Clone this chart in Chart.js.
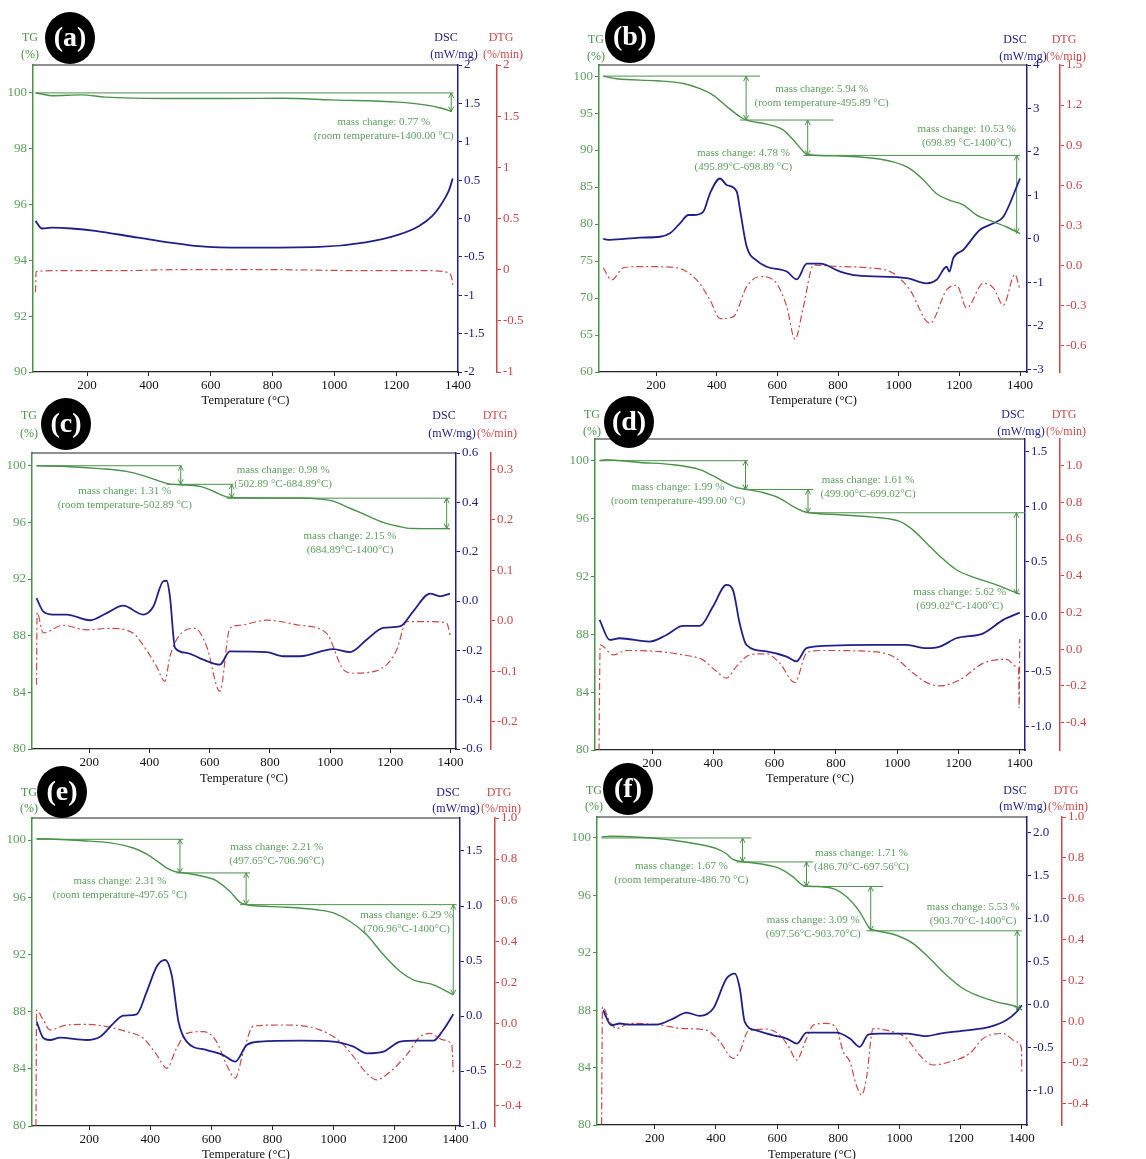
<!DOCTYPE html>
<html>
<head>
<meta charset="utf-8">
<title>TG-DSC-DTG curves</title>
<script src="https://cdn.jsdelivr.net/npm/chart.js@4.4.1/dist/chart.umd.min.js"></script>
<style>
  html, body { margin: 0; padding: 0; background: #fff; overflow: hidden; }
  #page { position: relative; width: 1146px; height: 1159px; overflow: hidden; }
  #page canvas { position: absolute; }
</style>
</head>
<body>
<div id="page"></div>
<script>
// Valeurs : [température °C, valeur]
const tempTicks = [200, 400, 600, 800, 1000, 1200, 1400];

// (a)
const tgA = [[33,100],[54,99.96],[86,99.9],[183,99.93],[258,99.85],[452,99.8],[668,99.8],[830,99.81],[991,99.75],[1207,99.67],[1293,99.57],[1347,99.45],[1380,99.33]];
const dscA = [[33,-0.03],[54,-0.13],[86,-0.12],[150,-0.13],[226,-0.16],[366,-0.25],[561,-0.36],[713,-0.38],[950,-0.37],[1101,-0.31],[1208,-0.21],[1273,-0.10],[1316,0.03],[1348,0.2],[1370,0.36],[1383,0.52]];
const dtgA = [[33,-0.22],[35,-0.02],[100,-0.01],[300,-0.01],[500,0],[800,0],[1100,-0.01],[1300,-0.01],[1370,-0.03],[1381,-0.1],[1383,-0.15]];
const linesA = [[33,1385,100]];
const arrowsA = [[1378,100,99.33]];
const notesA = [[1160,98.94,'mass change: 0.77 %','(room temperature-1400.00 °C)']];
const tgTicksA = [90,92,94,96,98,100];
const dscTicksA = [-2,-1.5,-1,-0.5,0,0.5,1,1.5,2];
const dtgTicksA = [-1,-0.5,0,0.5,1,1.5,2];

// (b)
const tgB = [[26,100],[70,99.64],[202,99.37],[290,99.0],[345,98.3],[389,97.4],[433,95.9],[477,94.5],[499,94.05],[565,93.5],[620,92.7],[653,91.35],[686,89.8],[697,89.4],[807,89.2],[916,88.9],[982,88.4],[1037,87.5],[1081,86.0],[1125,84.1],[1169,83.2],[1213,82.6],[1257,81.2],[1312,80.3],[1356,79.6],[1400,78.7]];
const dscB = [[26,0],[48,-0.02],[147,0.03],[213,0.05],[246,0.13],[279,0.36],[307,0.55],[323,0.55],[356,0.63],[378,1.05],[411,1.39],[433,1.24],[466,1.09],[477,0.67],[499,-0.18],[532,-0.5],[565,-0.64],[631,-0.75],[664,-0.93],[697,-0.57],[741,-0.57],[807,-0.75],[862,-0.84],[1026,-0.9],[1092,-1.02],[1125,-0.94],[1158,-0.64],[1167,-0.75],[1180,-0.44],[1213,-0.25],[1268,0.21],[1312,0.36],[1345,0.51],[1400,1.39]];
const dtgB = [[26,-0.02],[54,-0.11],[92,-0.02],[147,-0.01],[257,-0.015],[334,-0.11],[378,-0.26],[411,-0.4],[455,-0.385],[499,-0.16],[543,-0.085],[587,-0.11],[631,-0.31],[658,-0.555],[686,-0.31],[719,0],[807,-0.01],[905,-0.02],[982,-0.06],[1037,-0.185],[1103,-0.435],[1158,-0.185],[1191,-0.15],[1224,-0.32],[1279,-0.135],[1312,-0.17],[1345,-0.3],[1383,-0.07],[1400,-0.185]];
const linesB = [[26,543,100],[477,785,94.06],[686,1400,89.28]];
const arrowsB = [[497,100,94.06],[700,94.06,89.28],[1389,89.28,78.75]];
const notesB = [[746,98.2,'mass change: 5.94 %','(room temperature-495.89 °C)'],[488,89.55,'mass change: 4.78 %','(495.89°C-698.89 °C)'],[1224,92.9,'mass change: 10.53 %','(698.89 °C-1400°C)']];
const tgTicksB = [60,65,70,75,80,85,90,95,100];
const dscTicksB = [-3,-2,-1,0,1,2,3,4];
const dtgTicksB = [-0.6,-0.3,0,0.3,0.6,0.9,1.2,1.5];

// (c)
const tgC = [[25,100],[125,99.95],[235,99.8],[324,99.6],[379,99.3],[435,98.9],[468,98.7],[501,98.66],[568,98.54],[612,98.2],[656,97.8],[678,97.74],[900,97.72],[966,97.65],[1010,97.5],[1066,97.0],[1121,96.5],[1176,96.0],[1232,95.7],[1265,95.58],[1398,95.56]];
const dscC = [[25,0.012],[47,-0.042],[80,-0.055],[125,-0.055],[202,-0.078],[258,-0.049],[313,-0.019],[379,-0.055],[413,-0.022],[446,0.08],[457,0.082],[468,0.019],[485,-0.19],[523,-0.21],[579,-0.238],[634,-0.258],[667,-0.204],[789,-0.207],[844,-0.224],[900,-0.224],[1010,-0.195],[1066,-0.207],[1121,-0.157],[1176,-0.109],[1232,-0.103],[1276,-0.042],[1332,0.03],[1365,0.019],[1398,0.03]];
const dtgC = [[25,-0.127],[27,0.016],[47,-0.024],[114,-0.009],[191,-0.018],[269,-0.015],[346,-0.025],[390,-0.058],[424,-0.091],[451,-0.12],[468,-0.071],[496,-0.032],[551,-0.015],[590,-0.051],[634,-0.14],[667,-0.015],[700,-0.009],[789,0.001],[900,-0.009],[988,-0.025],[1044,-0.097],[1077,-0.104],[1121,-0.103],[1188,-0.087],[1221,-0.058],[1254,-0.002],[1343,-0.002],[1387,-0.005],[1400,-0.032]];
const linesC = [[25,507,100],[457,678,98.69],[656,1398,97.71],[1265,1398,95.56]];
const arrowsC = [[504,100,98.69],[673,98.69,97.71],[1387,97.71,95.56]];
const notesC = [[318,98.19,'mass change: 1.31 %','(room temperature-502.89 °C)'],[844,99.72,'mass change: 0.98 %','(502.89 °C-684.89°C)'],[1066,95.0,'mass change: 2.15 %','(684.89°C-1400°C)']];
const tgTicksC = [80,84,88,92,96,100];
const dscTicksC = [-0.6,-0.4,-0.2,0,0.2,0.4,0.6];
const dtgTicksC = [-0.2,-0.1,0,0.1,0.2,0.3];

// (d)
const tgD = [[29,100],[51,100.07],[160,99.88],[269,99.72],[356,99.38],[399,98.96],[443,98.45],[475,98.15],[502,98.04],[562,97.8],[617,97.4],[660,96.84],[693,96.5],[709,96.42],[813,96.26],[921,96.1],[1008,95.8],[1052,95.2],[1096,94.3],[1139,93.4],[1193,92.46],[1248,91.95],[1313,91.5],[1400,90.77]];
const dscD = [[29,-0.033],[62,-0.215],[94,-0.2],[192,-0.23],[247,-0.17],[301,-0.088],[356,-0.088],[399,0.088],[443,0.285],[464,0.24],[486,-0.064],[508,-0.26],[573,-0.32],[639,-0.367],[671,-0.41],[704,-0.29],[758,-0.27],[921,-0.26],[1030,-0.26],[1096,-0.29],[1139,-0.276],[1193,-0.2],[1281,-0.155],[1346,-0.033],[1400,0.033]];
const dtgD = [[27,-0.55],[31,0.024],[73,-0.031],[116,-0.007],[225,-0.013],[301,-0.031],[366,-0.058],[410,-0.12],[443,-0.158],[475,-0.095],[519,-0.031],[573,-0.025],[617,-0.076],[666,-0.182],[704,-0.022],[747,-0.007],[921,-0.013],[987,-0.04],[1052,-0.13],[1096,-0.182],[1139,-0.2],[1204,-0.167],[1281,-0.076],[1357,-0.055],[1389,-0.095],[1396,-0.11],[1398,-0.32],[1400,0.055]];
const linesD = [[29,513,100],[497,726,98.01],[704,1417,96.4]];
const arrowsD = [[505,100,98.01],[709,98.01,96.4],[1389,96.4,90.78]];
const notesD = [[285,98.15,'mass change: 1.99 %','(room temperature-499.00 °C)'],[905,98.64,'mass change: 1.61 %','(499.00°C-699.02°C)'],[1204,90.89,'mass change: 5.62 %','(699.02°C-1400°C)']];
const tgTicksD = [80,84,88,92,96,100];
const dscTicksD = [-1,-0.5,0,0.5,1,1.5];
const dtgTicksD = [-0.4,-0.2,0,0.2,0.4,0.6,0.8,1];

// (e)
const tgE = [[27,100.09],[71,100.07],[180,99.95],[268,99.8],[344,99.44],[388,99.02],[421,98.55],[454,98.04],[486,97.76],[503,97.72],[563,97.5],[617,97.15],[661,96.4],[694,95.64],[716,95.47],[836,95.31],[945,95.12],[1000,94.9],[1055,94.3],[1109,93.37],[1164,91.97],[1219,90.8],[1262,90.22],[1328,89.87],[1393,89.17]];
const dscE = [[27,-0.05],[49,-0.2],[71,-0.218],[104,-0.197],[191,-0.218],[235,-0.188],[279,-0.067],[311,0.003],[355,0.015],[388,0.22],[421,0.45],[448,0.51],[470,0.37],[492,-0.05],[519,-0.233],[585,-0.31],[639,-0.355],[678,-0.415],[716,-0.264],[760,-0.233],[891,-0.224],[1000,-0.233],[1066,-0.279],[1109,-0.34],[1164,-0.324],[1219,-0.233],[1273,-0.224],[1328,-0.224],[1360,-0.127],[1393,0.015]];
const dtgE = [[25,-0.5],[27,0.065],[49,0.016],[71,-0.032],[126,-0.008],[191,-0.005],[257,-0.016],[322,-0.04],[377,-0.073],[421,-0.154],[454,-0.219],[486,-0.121],[519,-0.049],[574,-0.04],[617,-0.089],[650,-0.202],[678,-0.267],[705,-0.138],[738,-0.013],[836,-0.008],[956,-0.032],[1022,-0.089],[1066,-0.162],[1109,-0.243],[1142,-0.275],[1186,-0.235],[1240,-0.154],[1284,-0.065],[1317,-0.049],[1360,-0.081],[1388,-0.105],[1393,-0.243]];
const linesE = [[27,508,100.05],[486,727,97.7],[694,1404,95.48]];
const arrowsE = [[497,100.05,97.7],[714,97.7,95.48],[1393,95.48,89.19]];
const notesE = [[300,97.1,'mass change: 2.31 %','(room temperature-497.65 °C)'],[814,99.49,'mass change: 2.21 %','(497.65°C-706.96°C)'],[1240,94.77,'mass change: 6.29 %','(706.96°C-1400°C)']];
const tgTicksE = [80,84,88,92,96,100];
const dscTicksE = [-1,-0.5,0,0.5,1,1.5];
const dtgTicksE = [-0.4,-0.2,0,0.2,0.4,0.6,0.8,1];

// (f)
const tgF = [[26,100.07],[53,100.12],[151,100.05],[260,99.84],[347,99.54],[402,99.26],[434,98.9],[456,98.5],[478,98.38],[543,98.2],[609,97.87],[652,97.29],[685,96.7],[707,96.64],[783,96.47],[827,95.9],[870,94.85],[903,93.69],[919,93.57],[990,93.22],[1045,92.64],[1099,91.6],[1154,90.44],[1208,89.51],[1252,89.05],[1317,88.58],[1394,88.12],[1400,88.0]];
const dscF = [[31,-0.066],[58,-0.24],[86,-0.22],[118,-0.233],[205,-0.233],[260,-0.163],[304,-0.093],[347,-0.132],[391,-0.047],[434,0.3],[462,0.36],[478,0.186],[494,-0.2],[532,-0.3],[587,-0.357],[631,-0.395],[665,-0.453],[696,-0.326],[794,-0.326],[838,-0.395],[870,-0.492],[898,-0.349],[936,-0.337],[1023,-0.337],[1088,-0.368],[1132,-0.337],[1219,-0.3],[1295,-0.26],[1350,-0.18],[1383,-0.085],[1400,-0.008]];
const dtgF = [[26,-0.5],[29,0.073],[53,0],[75,-0.033],[118,-0.008],[205,-0.013],[293,-0.033],[369,-0.041],[413,-0.098],[456,-0.179],[478,-0.146],[505,-0.046],[565,-0.036],[609,-0.065],[641,-0.13],[663,-0.187],[696,-0.081],[718,-0.016],[761,-0.008],[794,-0.033],[816,-0.146],[838,-0.195],[859,-0.31],[876,-0.358],[892,-0.276],[914,-0.033],[957,-0.041],[1023,-0.081],[1066,-0.163],[1110,-0.211],[1165,-0.195],[1230,-0.154],[1274,-0.081],[1339,-0.057],[1383,-0.098],[1399,-0.13],[1400,-0.244]];
const linesF = [[26,516,100],[467,718,98.33],[685,947,96.62],[892,1400,93.53]];
const arrowsF = [[487,100,98.33],[696,98.33,96.62],[906,96.62,93.53],[1385,93.53,88.0]];
const notesF = [[287,98.05,'mass change: 1.67 %','(room temperature-486.70 °C)'],[876,98.96,'mass change: 1.71 %','(486.70°C-697.56°C)'],[718,94.27,'mass change: 3.09 %','(697.56°C-903.70°C)'],[1241,95.15,'mass change: 5.53 %','(903.70°C-1400°C)']];
const tgTicksF = [80,84,88,92,96,100];
const dscTicksF = [-1,-0.5,0,0.5,1,1.5,2];
const dtgTicksF = [-0.4,-0.2,0,0.2,0.4,0.6,0.8,1];

// Couleurs
const GREEN = '#4a924a';
const GREEN_TXT = '#5c9e5c';
const NAVY = '#20208a';
const RED = '#cc4848';
const FONT = "'Liberation Serif', 'Times New Roman', serif";
Chart.defaults.font.family = FONT;

// Mise en page des panneaux (coordonnées page)
const panels = [
  { tag: 'a', tg: tgA, dsc: dscA, dtg: dtgA, lines: linesA, arrows: arrowsA, notes: notesA,
    ticks: [tgTicksA, dscTicksA, dtgTicksA], dec: [null, null, null],
    xr: [25, 1400], tgr: [90, 101], dscr: [-2, 2], dtgr: [-1, 2],
    box: { x: 0, y: 0, w: 560, h: 410 }, area: { l: 33, t: 65, r: 458, b: 372 }, dtgX: 497,
    titleY: 399, head: [38, 55], badge: [70, 38] },
  { tag: 'b', tg: tgB, dsc: dscB, dtg: dtgB, lines: linesB, arrows: arrowsB, notes: notesB,
    ticks: [tgTicksB, dscTicksB, dtgTicksB], dec: [null, null, 1],
    xr: [12, 1423], tgr: [60, 101.5], dscr: [-3.06, 4], dtgr: [-0.8, 1.5],
    box: { x: 563, y: 0, w: 583, h: 410 }, area: { l: 599, t: 65, r: 1027, b: 372 }, dtgX: 1060,
    titleY: 399, head: [40, 57], badge: [630, 37] },
  { tag: 'c', tg: tgC, dsc: dscC, dtg: dtgC, lines: linesC, arrows: arrowsC, notes: notesC,
    ticks: [tgTicksC, dscTicksC, dtgTicksC], dec: [null, 1, 1],
    xr: [10, 1418], tgr: [80, 100.9], dscr: [-0.6, 0.6], dtgr: [-0.254, 0.332],
    box: { x: 0, y: 388, w: 560, h: 400 }, area: { l: 32, t: 453, r: 456, b: 749 }, dtgX: 491,
    titleY: 777, head: [416, 434], badge: [66, 424] },
  { tag: 'd', tg: tgD, dsc: dscD, dtg: dtgD, lines: linesD, arrows: arrowsD, notes: notesD,
    ticks: [tgTicksD, dscTicksD, dtgTicksD], dec: [null, 1, 1],
    xr: [14, 1417], tgr: [80, 101.5], dscr: [-1.215, 1.61], dtgr: [-0.549, 1.145],
    box: { x: 563, y: 388, w: 583, h: 400 }, area: { l: 595, t: 439, r: 1025, b: 750 }, dtgX: 1060,
    titleY: 777, head: [415, 432], badge: [629, 422] },
  { tag: 'e', tg: tgE, dsc: dscE, dtg: dtgE, lines: linesE, arrows: arrowsE, notes: notesE,
    ticks: [tgTicksE, dscTicksE, dtgTicksE], dec: [null, 1, 1],
    xr: [12, 1415], tgr: [80, 101.54], dscr: [-1, 1.8], dtgr: [-0.5, 1],
    box: { x: 0, y: 756, w: 560, h: 408 }, area: { l: 32, t: 818, r: 460, b: 1126 }, dtgX: 495,
    titleY: 1153, head: [793, 809], badge: [62, 792] },
  { tag: 'f', tg: tgF, dsc: dscF, dtg: dtgF, lines: linesF, arrows: arrowsF, notes: notesF,
    ticks: [tgTicksF, dscTicksF, dtgTicksF], dec: [null, 1, 1],
    xr: [11, 1417], tgr: [80, 101.46], dscr: [-1.4, 2.18], dtgr: [-0.504, 1],
    box: { x: 563, y: 756, w: 583, h: 408 }, area: { l: 597, t: 817, r: 1027, b: 1125 }, dtgX: 1062,
    titleY: 1153, head: [791, 807], badge: [628, 789] }
];

const TG_W = 30, DTG_W = 40;

function fmt(dec) {
  return v => dec === null ? String(v) : Number(v).toFixed(dec);
}

function useTicks(list) {
  return scale => { scale.ticks = list.map(v => ({ value: v })); };
}

function pts(arr) {
  return arr.map(([x, y]) => ({ x: x, y: y }));
}

function yAxis(position, weight, range, list, dec, color, txtColor, width) {
  return {
    type: 'linear', position: position, weight: weight,
    min: range[0], max: range[1],
    afterBuildTicks: useTicks(list),
    afterFit: scale => { scale.width = width; },
    ticks: { autoSkip: false, color: txtColor, font: { size: 13 }, padding: 2, callback: fmt(dec) },
    grid: { drawOnChartArea: false, drawTicks: true, tickLength: 4, color: color, lineWidth: 1 },
    border: { display: true, color: color, width: 1.5 }
  };
}

// Lignes de paliers, flèches, textes, en-têtes et pastille
function decor(p) {
  return {
    id: 'decor_' + p.tag,
    beforeDatasetsDraw(chart) {
      const { ctx, scales: { x, yTG } } = chart;
      ctx.save();
      ctx.strokeStyle = GREEN;
      ctx.lineWidth = 1;
      p.lines.forEach(([t1, t2, v]) => {
        const py = yTG.getPixelForValue(v);
        ctx.beginPath();
        ctx.moveTo(x.getPixelForValue(t1), py);
        ctx.lineTo(x.getPixelForValue(t2), py);
        ctx.stroke();
      });
      p.arrows.forEach(([t, v1, v2]) => {
        const px = x.getPixelForValue(t);
        const y1 = yTG.getPixelForValue(v1), y2 = yTG.getPixelForValue(v2);
        ctx.beginPath();
        ctx.moveTo(px, y1); ctx.lineTo(px, y2);
        ctx.moveTo(px - 2.5, y1 + 5); ctx.lineTo(px, y1); ctx.lineTo(px + 2.5, y1 + 5);
        ctx.moveTo(px - 2.5, y2 - 5); ctx.lineTo(px, y2); ctx.lineTo(px + 2.5, y2 - 5);
        ctx.stroke();
      });
      ctx.restore();
    },
    afterDraw(chart) {
      const { ctx, chartArea: a, scales: { x, yTG, yDTG } } = chart;
      ctx.save();
      // cadre du haut
      ctx.strokeStyle = '#222';
      ctx.lineWidth = 1.2;
      ctx.beginPath();
      ctx.moveTo(a.left, a.top);
      ctx.lineTo(a.right, a.top);
      ctx.stroke();

      ctx.textAlign = 'center';
      ctx.textBaseline = 'middle';
      ctx.fillStyle = GREEN_TXT;
      ctx.font = '11px ' + FONT;
      p.notes.forEach(([t, v, l1, l2]) => {
        const px = x.getPixelForValue(t), py = yTG.getPixelForValue(v);
        ctx.fillText(l1, px, py);
        ctx.fillText(l2, px, py + 14);
      });

      const h1 = p.head[0] - p.box.y, h2 = p.head[1] - p.box.y;
      ctx.font = '12px ' + FONT;
      ctx.fillStyle = GREEN;
      ctx.fillText('TG', a.left - 3, h1);
      ctx.fillText('(%)', a.left - 3, h2);
      ctx.fillStyle = NAVY;
      ctx.fillText('DSC', a.right - 12, h1);
      ctx.fillText('(mW/mg)', a.right - 4, h2);
      ctx.fillStyle = RED;
      ctx.fillText('DTG', yDTG.left + 4, h1);
      ctx.fillText('(%/min)', yDTG.left + 6, h2);

      const bx = p.badge[0] - p.box.x, by = p.badge[1] - p.box.y;
      ctx.fillStyle = '#000';
      ctx.beginPath();
      ctx.ellipse(bx, by, 25, 26, 0, 0, Math.PI * 2);
      ctx.fill();
      ctx.fillStyle = '#fff';
      ctx.font = 'bold 28px ' + FONT;
      ctx.fillText('(' + p.tag + ')', bx, by + 1);
      ctx.restore();
    }
  };
}

const page = document.getElementById('page');

panels.forEach(p => {
  const canvas = document.createElement('canvas');
  canvas.width = p.box.w;
  canvas.height = p.box.h;
  canvas.style.left = p.box.x + 'px';
  canvas.style.top = p.box.y + 'px';
  page.appendChild(canvas);

  const xH = p.titleY - p.area.b + 9;
  const dscW = p.dtgX - p.area.r;

  new Chart(canvas, {
    type: 'line',
    data: {
      datasets: [
        { label: 'TG', data: pts(p.tg), yAxisID: 'yTG', borderColor: GREEN, borderWidth: 1.4,
          pointRadius: 0, cubicInterpolationMode: 'monotone' },
        { label: 'DSC', data: pts(p.dsc), yAxisID: 'yDSC', borderColor: NAVY, borderWidth: 1.8,
          pointRadius: 0, cubicInterpolationMode: 'monotone' },
        { label: 'DTG', data: pts(p.dtg), yAxisID: 'yDTG', borderColor: RED, borderWidth: 1.2,
          borderDash: [7, 3, 2, 3], pointRadius: 0, cubicInterpolationMode: 'monotone' }
      ]
    },
    options: {
      responsive: false,
      animation: false,
      layout: {
        padding: {
          left: p.area.l - p.box.x - TG_W,
          right: p.box.x + p.box.w - p.dtgX - DTG_W,
          top: p.area.t - p.box.y,
          bottom: p.box.y + p.box.h - p.area.b - xH
        }
      },
      plugins: { legend: { display: false }, tooltip: { enabled: false } },
      scales: {
        x: {
          type: 'linear', min: p.xr[0], max: p.xr[1],
          afterBuildTicks: useTicks(tempTicks),
          afterFit: scale => { scale.height = xH; },
          ticks: { autoSkip: false, color: '#111', font: { size: 13 }, padding: 2, maxRotation: 0,
                   callback: v => String(v) },
          grid: { drawOnChartArea: false, drawTicks: true, tickLength: 4, color: '#222' },
          border: { display: true, color: '#222', width: 1.2 },
          title: { display: true, text: 'Temperature (°C)', color: '#111', font: { size: 12.5 },
                   padding: { top: 0, bottom: 0 } }
        },
        yTG: yAxis('left', 0, p.tgr, p.ticks[0], p.dec[0], GREEN, GREEN_TXT, TG_W),
        yDSC: yAxis('right', 0, p.dscr, p.ticks[1], p.dec[1], NAVY, NAVY, dscW),
        yDTG: yAxis('right', 1, p.dtgr, p.ticks[2], p.dec[2], RED, RED, DTG_W)
      }
    },
    plugins: [decor(p)]
  });
});
</script>
</body>
</html>
